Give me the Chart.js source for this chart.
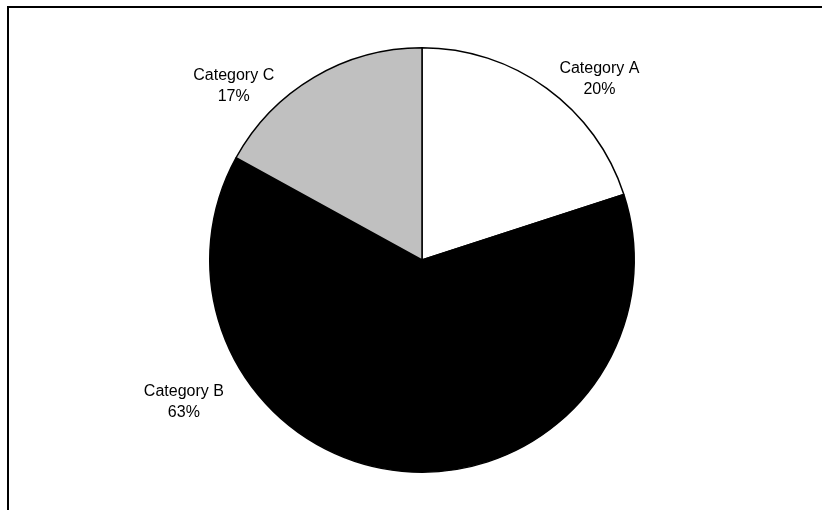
<!DOCTYPE html>
<html lang="en">
<head>
  <meta charset="UTF-8">
  <title>Category share</title>
  <script src="https://cdn.jsdelivr.net/npm/chart.js"></script>
  <style>
    body {
      margin: 0;
      background-color: #ffffff;
    }
    #wrap {
      position: relative;
      width: 822px;
      height: 510px;
    }
  </style>
</head>
<body>
<div id="wrap">
  <canvas id="chartCanvas"></canvas>
</div>

<script>
  // Datos
  const categorias = ['Category A', 'Category B', 'Category C'];
  const valores = [20, 63, 17];
  const colores = ['#ffffff', '#000000', '#c0c0c0'];

  // Posición de las etiquetas respecto al centro, en fracción del radio
  const posEtiquetas = [[0.836, -0.85], [-1.122, 0.671], [-0.887, -0.817]];

  const marco = {
    id: 'marco',
    beforeDraw(chart) {
      const ctx = chart.ctx;
      ctx.save();
      ctx.fillStyle = '#ffffff';
      ctx.fillRect(0, 0, chart.width, chart.height);
      ctx.strokeStyle = '#000000';
      ctx.lineWidth = 2;
      ctx.strokeRect(8, 7, chart.width + 20, chart.height + 20);
      ctx.restore();
    }
  };

  const etiquetas = {
    id: 'etiquetas',
    afterDraw(chart) {
      const ctx = chart.ctx;
      const meta = chart.getDatasetMeta(0);
      const total = valores.reduce((a, b) => a + b, 0);
      ctx.save();
      ctx.font = '16px "Liberation Sans", Arial, sans-serif';
      ctx.fillStyle = '#000000';
      ctx.textAlign = 'center';
      ctx.textBaseline = 'middle';
      meta.data.forEach((arc, i) => {
        const r = arc.outerRadius;
        const x = arc.x + posEtiquetas[i][0] * r;
        const y = arc.y + posEtiquetas[i][1] * r;
        const pct = Math.round(valores[i] / total * 100) + '%';
        ctx.fillText(categorias[i], x, y - 11);
        ctx.fillText(pct, x, y + 10);
      });
      ctx.restore();
    }
  };

  new Chart(document.getElementById('chartCanvas'), {
    type: 'pie',
    data: {
      labels: categorias,
      datasets: [{
        data: valores,
        backgroundColor: colores,
        borderColor: '#000000',
        borderWidth: 1.5
      }]
    },
    options: {
      responsive: true,
      maintainAspectRatio: false,
      animation: false,
      layout: {
        padding: { left: 22, right: 0, top: 47, bottom: 37 }
      },
      plugins: {
        legend: { display: false },
        tooltip: { enabled: false }
      }
    },
    plugins: [marco, etiquetas]
  });
</script>
</body>
</html>
